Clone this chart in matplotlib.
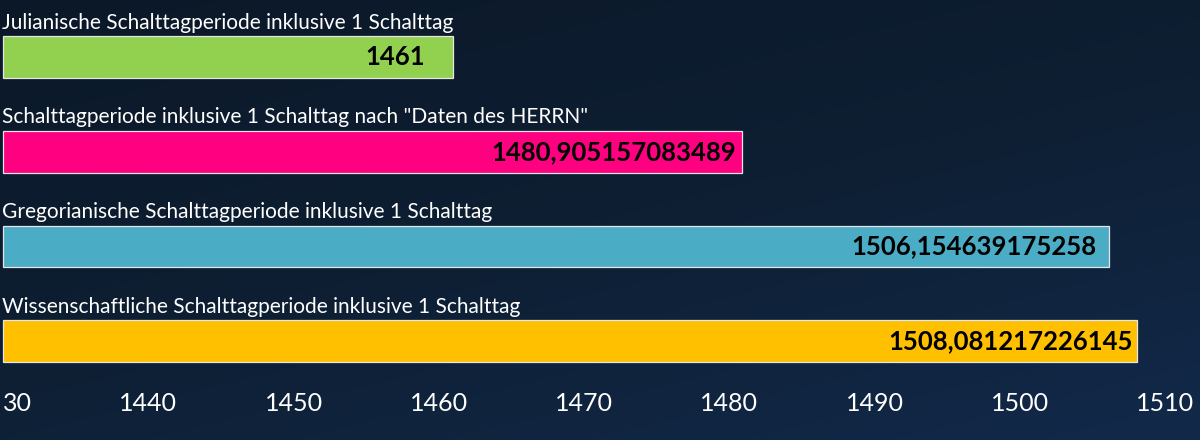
import numpy as np
import matplotlib
matplotlib.use("Agg")
import matplotlib.pyplot as plt
from matplotlib.colors import LinearSegmentedColormap

# Daten
labels = [
    "Julianische Schalttagperiode inklusive 1 Schalttag",
    'Schalttagperiode inklusive 1 Schalttag nach "Daten des HERRN"',
    "Gregorianische Schalttagperiode inklusive 1 Schalttag",
    "Wissenschaftliche Schalttagperiode inklusive 1 Schalttag",
]
values = [1461, 1480.905157083489, 1506.154639175258, 1508.081217226145]
value_texts = ["1461", "1480,905157083489", "1506,154639175258", "1508,081217226145"]
colors = ["#92d050", "#ff0080", "#4bacc6", "#ffc000"]
ticks = [1430, 1440, 1450, 1460, 1470, 1480, 1490, 1500, 1510]
tick_labels = ["30", "1440", "1450", "1460", "1470", "1480", "1490", "1500", "1510"]
x_min = 1430

plt.rcParams["font.family"] = ["Lato", "DejaVu Sans"]

fig = plt.figure(figsize=(12, 4.4), dpi=100)

# Hintergrund (Nachthimmel)
bg = fig.add_axes([0, 0, 1, 1])
cmap = LinearSegmentedColormap.from_list("sky", ["#0b1828", "#0e1f33", "#12294a"])
yy, xx = np.mgrid[0:1:200j, 0:1:200j]
grad = 0.6 * yy + 0.4 * xx
bg.imshow(grad, cmap=cmap, aspect="auto", extent=[0, 1, 0, 1], origin="upper")
bg.set_axis_off()

ax = fig.add_axes([0, 55 / 440, 1, 385 / 440])
ax.patch.set_alpha(0)
y = np.arange(len(values))
bar_h = 0.44
ax.barh(y, np.array(values) - x_min, left=x_min, height=bar_h, color=colors,
        edgecolor="#e6e6e6", linewidth=0.9)

ax.set_xlim(1429.79, 1512.41)
ax.set_ylim(3.464, -0.602)

pad = [-28, -6, -13, -4]
for i in range(len(values)):
    ax.annotate(labels[i], (1429.95, y[i] - bar_h / 2), xytext=(0, 2.5),
                textcoords="offset points", ha="left", va="bottom",
                color="white", fontsize=15)
    ax.annotate(value_texts[i], (values[i], y[i]), xytext=(pad[i] * 0.72, 0),
                textcoords="offset points", ha="right", va="center",
                color="black", fontsize=18.5, fontweight="bold")

ax.set_xticks(ticks)
ax.set_xticklabels(tick_labels)
ax.tick_params(axis="x", length=0, pad=5, labelsize=18, labelcolor="white")
first = ax.get_xticklabels()[0]
first.set_horizontalalignment("left")
ax.set_yticks([])
for s in ax.spines.values():
    s.set_visible(False)

fig.savefig("out.png", dpi=100)
